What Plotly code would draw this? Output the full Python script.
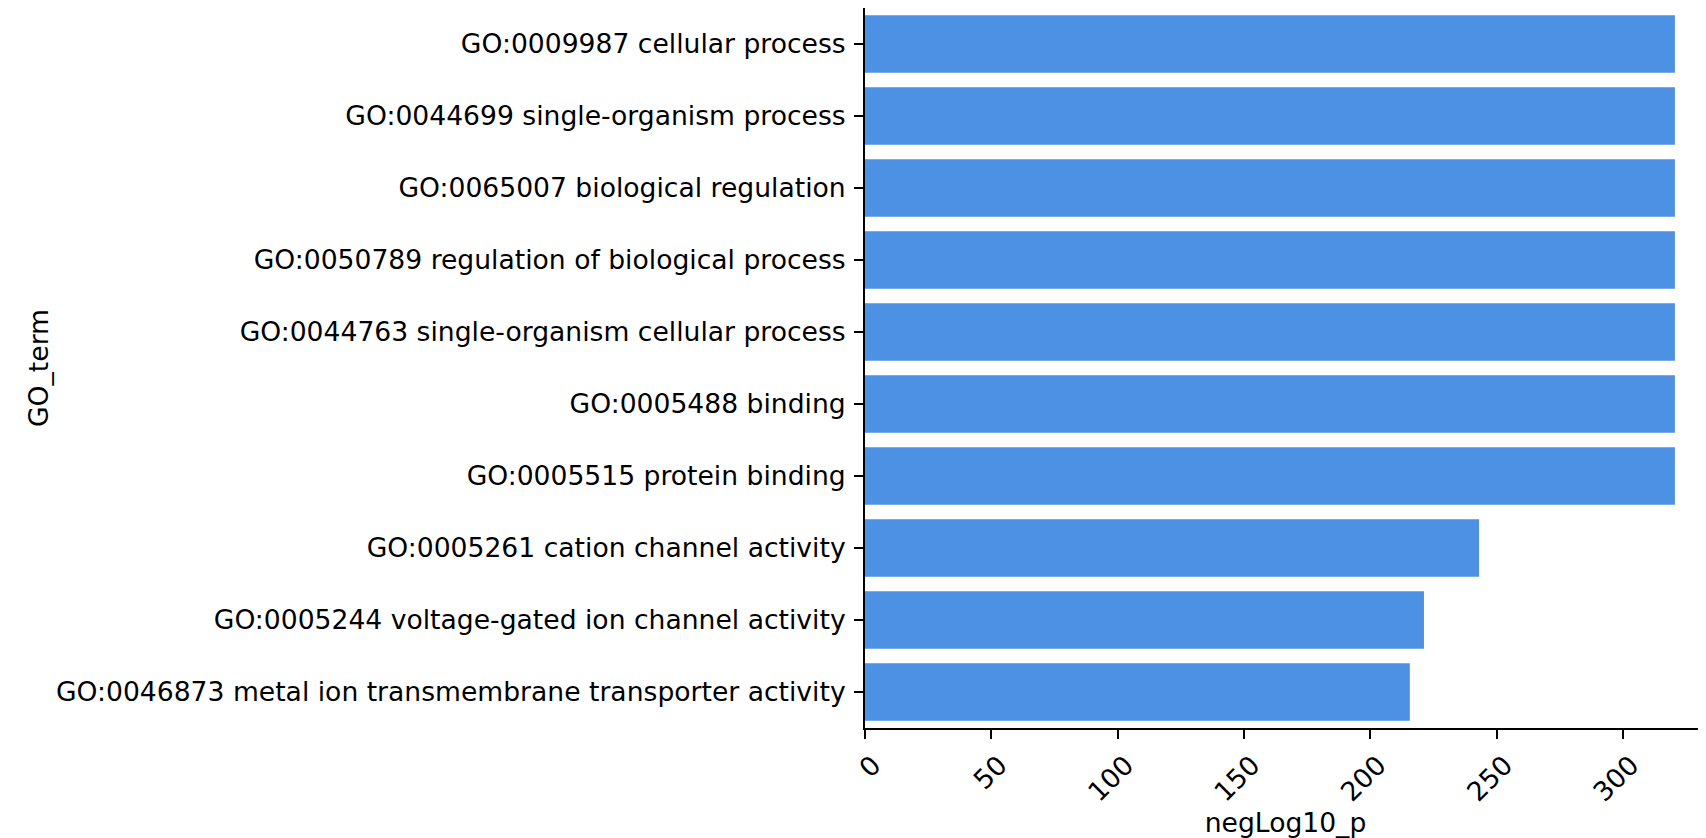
import plotly.graph_objects as go

go_terms = [
    "GO:0009987 cellular process",
    "GO:0044699 single-organism process",
    "GO:0065007 biological regulation",
    "GO:0050789 regulation of biological process",
    "GO:0044763 single-organism cellular process",
    "GO:0005488 binding",
    "GO:0005515 protein binding",
    "GO:0005261 cation channel activity",
    "GO:0005244 voltage-gated ion channel activity",
    "GO:0046873 metal ion transmembrane transporter activity",
]
neg_log10_p = [320.5, 320.5, 320.5, 320.5, 320.5, 320.5, 320.5, 243.0, 221.2, 215.6]
x_ticks = [0, 50, 100, 150, 200, 250, 300]

FONT = "DejaVu Sans"
FS = 26.6

fig = go.Figure(
    go.Bar(
        x=neg_log10_p,
        y=go_terms,
        orientation="h",
        width=0.8,
        marker=dict(color="#4D91E4", line=dict(width=0)),
    )
)

# page body has an 8px default margin, so the figure is sized to fit the window
fig.update_layout(
    width=1698,
    height=830,
    margin=dict(l=857, r=0, t=0, b=110, autoexpand=False),
    plot_bgcolor="white",
    paper_bgcolor="white",
    font=dict(family=FONT, size=FS, color="black"),
    showlegend=False,
    bargap=0.2,
)

fig.update_xaxes(
    range=[0, 332.8],
    tickmode="array",
    tickvals=x_ticks,
    ticktext=[str(v) for v in x_ticks],
    tickangle=-45,
    ticks="outside",
    ticklen=9,
    tickwidth=2,
    tickcolor="black",
    showline=True,
    linewidth=2,
    linecolor="black",
    mirror=True,
    showgrid=False,
    zeroline=False,
    ticklabelshift=8,
    title=dict(text="negLog10_p", font=dict(size=FS), standoff=4),
)

fig.update_yaxes(
    type="category",
    categoryorder="array",
    categoryarray=go_terms,
    range=[9.5, -0.5],
    ticks="outside",
    ticklen=9,
    tickwidth=2,
    tickcolor="black",
    showline=True,
    linewidth=2,
    linecolor="black",
    showgrid=False,
    zeroline=False,
    ticklabelstandoff=3,
    title=dict(text="GO_term", font=dict(size=FS), standoff=0),
)

fig.write_html("out.html")
